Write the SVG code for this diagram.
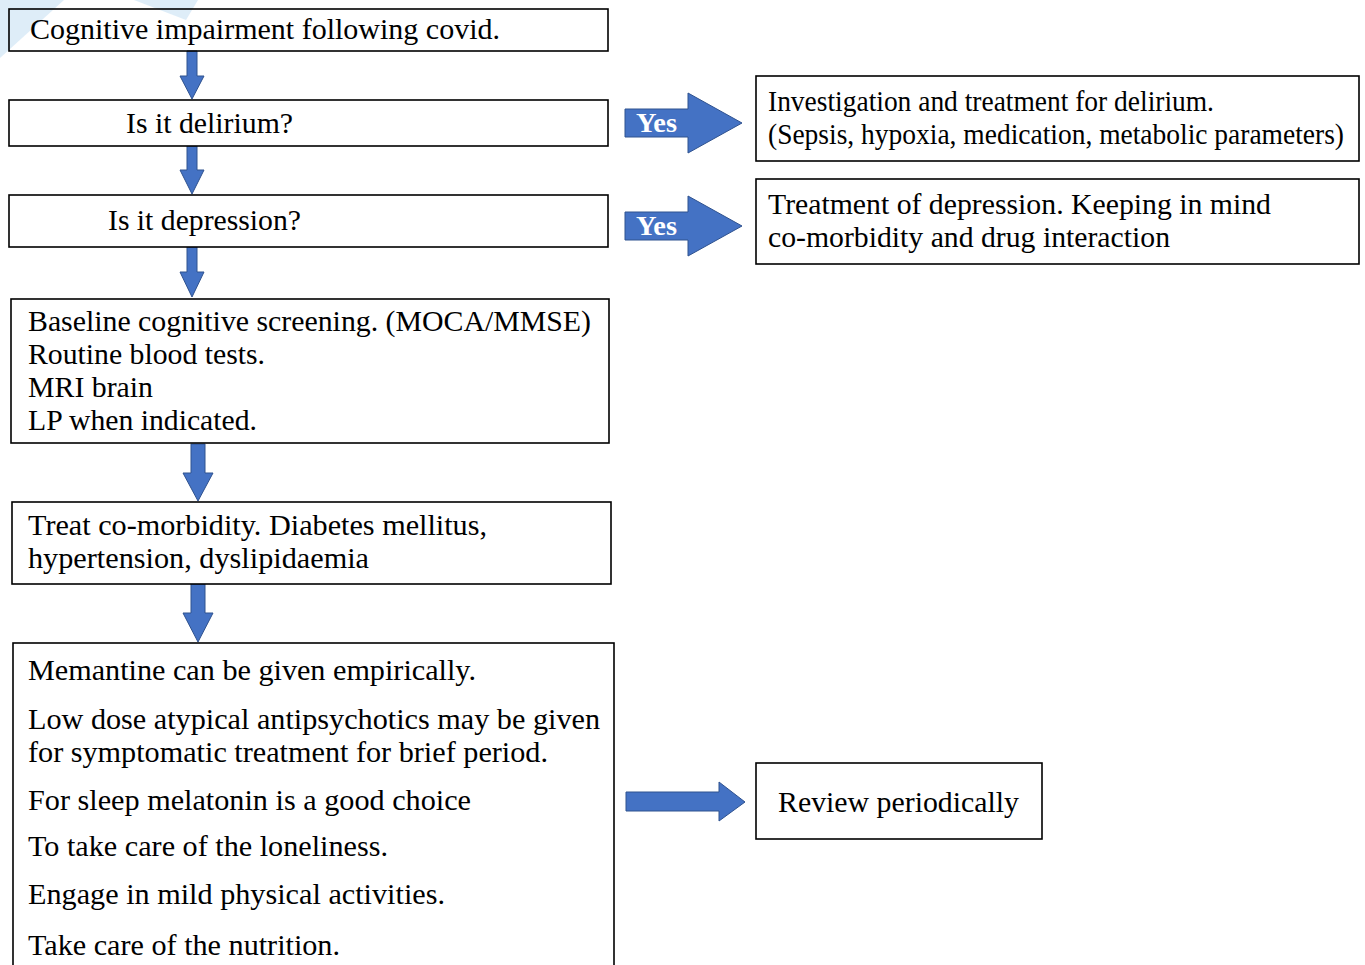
<svg xmlns="http://www.w3.org/2000/svg" width="1365" height="965" viewBox="0 0 1365 965">
  <style>
    .box { fill: #ffffff; stroke: #000000; stroke-width: 1.6; }
    .box-open { fill: none; stroke: #000000; stroke-width: 1.6; }
    .arrow { fill: #4472c4; stroke: #2f528f; stroke-width: 1; }
    .txt { font-family: "Liberation Serif", "Times New Roman", serif; font-size: 30px; fill: #000000; }
    .txt-r { font-family: "Liberation Serif", "Times New Roman", serif; font-size: 28.5px; fill: #000000; }
    .yes { font-family: "Liberation Serif", "Times New Roman", serif; font-size: 27.5px; font-weight: bold; fill: #ffffff; }
    .mark { fill: #d6e9f6; opacity: 0.8; }
  </style>

  <rect width="1365" height="965" fill="#ffffff"/>

  <!-- faint background mark in the upper-left corner -->
  <g id="corner-mark">
    <polygon class="mark" points="0,0 64,0 0,58"/>
    <polygon class="mark" points="134,0 198,0 186,20"/>
  </g>

  <!-- connectors -->
  <g id="connectors">
    <polygon class="arrow" points="187,51 197,51 197,76 204,76 192,99 180,76 187,76"/>
    <polygon class="arrow" points="187,146 197,146 197,170 204,170 192,194 180,170 187,170"/>
    <polygon class="arrow" points="187,247 197,247 197,272 204,272 192,297 180,272 187,272"/>
    <polygon class="arrow" points="191,444 205,444 205,473 213,473 198,501 183,473 191,473"/>
    <polygon class="arrow" points="191,584 205,584 205,613 213,613 198,642 183,613 191,613"/>

    <g id="yes-delirium">
      <polygon class="arrow" points="625,109 688,109 688,93 742,123 688,153 688,137 625,137"/>
      <text class="yes" x="636" y="132" textLength="41" lengthAdjust="spacingAndGlyphs">Yes</text>
    </g>
    <g id="yes-depression">
      <polygon class="arrow" points="625,212 688,212 688,196 742,226 688,256 688,240 625,240"/>
      <text class="yes" x="636" y="235" textLength="41" lengthAdjust="spacingAndGlyphs">Yes</text>
    </g>

    <polygon class="arrow" points="626,792 719,792 719,782 745,802 719,821 719,811 626,811"/>
  </g>

  <!-- main column -->
  <g id="node-start">
    <rect class="box-open" x="9" y="9" width="599" height="42"/>
    <text class="txt" x="30" y="39" textLength="470" lengthAdjust="spacingAndGlyphs">Cognitive impairment following covid.</text>
  </g>

  <g id="node-delirium">
    <rect class="box" x="9" y="100" width="599" height="46"/>
    <text class="txt" x="126" y="133" textLength="167" lengthAdjust="spacingAndGlyphs">Is it delirium?</text>
  </g>

  <g id="node-depression">
    <rect class="box" x="9" y="195" width="599" height="52"/>
    <text class="txt" x="108" y="230" textLength="193" lengthAdjust="spacingAndGlyphs">Is it depression?</text>
  </g>

  <g id="node-screening">
    <rect class="box" x="11" y="299" width="598" height="144"/>
    <text class="txt" x="28" y="331" textLength="563" lengthAdjust="spacingAndGlyphs">Baseline cognitive screening. (MOCA/MMSE)</text>
    <text class="txt" x="28" y="364" textLength="237" lengthAdjust="spacingAndGlyphs">Routine blood tests.</text>
    <text class="txt" x="28" y="397" textLength="125" lengthAdjust="spacingAndGlyphs">MRI brain</text>
    <text class="txt" x="28" y="430" textLength="229" lengthAdjust="spacingAndGlyphs">LP when indicated.</text>
  </g>

  <g id="node-comorbidity">
    <rect class="box" x="12" y="502" width="599" height="82"/>
    <text class="txt" x="28" y="535" textLength="459" lengthAdjust="spacingAndGlyphs">Treat co-morbidity. Diabetes mellitus,</text>
    <text class="txt" x="28" y="568" textLength="341" lengthAdjust="spacingAndGlyphs">hypertension, dyslipidaemia</text>
  </g>

  <g id="node-management">
    <rect class="box" x="13" y="643" width="601" height="330"/>
    <text class="txt" x="28" y="680" textLength="448" lengthAdjust="spacingAndGlyphs">Memantine can be given empirically.</text>
    <text class="txt" x="28" y="729" textLength="572" lengthAdjust="spacingAndGlyphs">Low dose atypical antipsychotics may be given</text>
    <text class="txt" x="28" y="762" textLength="520" lengthAdjust="spacingAndGlyphs">for symptomatic treatment for brief period.</text>
    <text class="txt" x="28" y="810" textLength="443" lengthAdjust="spacingAndGlyphs">For sleep melatonin is a good choice</text>
    <text class="txt" x="28" y="856" textLength="360" lengthAdjust="spacingAndGlyphs">To take care of the loneliness.</text>
    <text class="txt" x="28" y="904" textLength="417" lengthAdjust="spacingAndGlyphs">Engage in mild physical activities.</text>
    <text class="txt" x="28" y="955" textLength="312" lengthAdjust="spacingAndGlyphs">Take care of the nutrition.</text>
  </g>

  <!-- right column -->
  <g id="node-delirium-treatment">
    <rect class="box" x="756" y="76" width="603" height="85"/>
    <text class="txt-r" x="768" y="111" textLength="446" lengthAdjust="spacingAndGlyphs">Investigation and treatment for delirium.</text>
    <text class="txt-r" x="768" y="144" textLength="576" lengthAdjust="spacingAndGlyphs">(Sepsis, hypoxia, medication, metabolic parameters)</text>
  </g>

  <g id="node-depression-treatment">
    <rect class="box" x="756" y="179" width="603" height="85"/>
    <text class="txt-r" x="768" y="214" textLength="503" lengthAdjust="spacingAndGlyphs">Treatment of depression. Keeping in mind</text>
    <text class="txt-r" x="768" y="247" textLength="402" lengthAdjust="spacingAndGlyphs">co-morbidity and drug interaction</text>
  </g>

  <g id="node-review">
    <rect class="box" x="756" y="763" width="286" height="76"/>
    <text class="txt" x="778" y="812" textLength="241" lengthAdjust="spacingAndGlyphs">Review periodically</text>
  </g>
</svg>
